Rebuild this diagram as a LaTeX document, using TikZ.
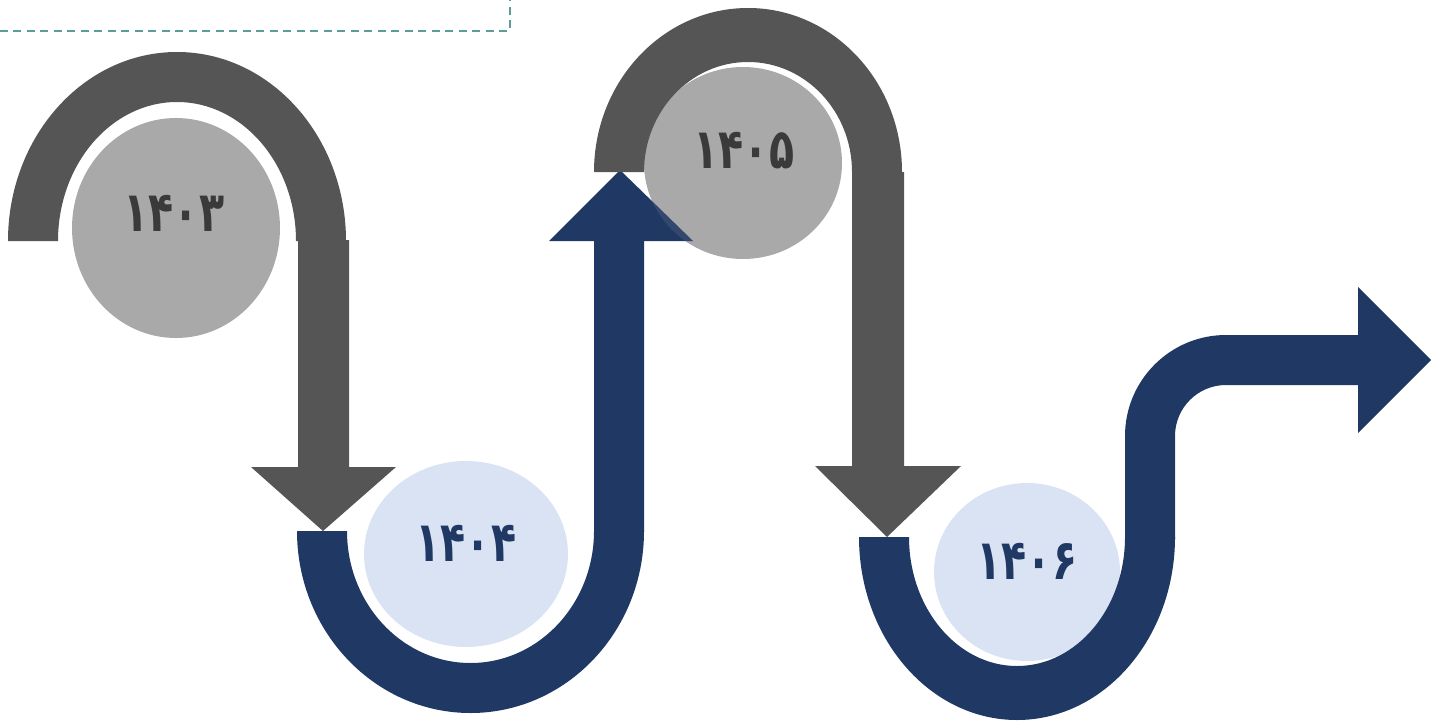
\documentclass[tikz,border=0pt]{standalone}
\usepackage{fontspec}
\usepackage{graphicx}
\newfontfamily\fa[Script=Arabic]{DejaVu Sans}
\definecolor{dgray}{HTML}{555555}
\definecolor{cgray}{HTML}{A9A9A9}
\definecolor{navy}{HTML}{203864}
\definecolor{lblue}{HTML}{DAE3F3}
\definecolor{tgray}{HTML}{3A3A3A}
\definecolor{tealc}{HTML}{5B9E98}
\newcommand{\yeartext}[1]{\scalebox{0.9}[1.22]{#1}}
\begin{document}
\begin{tikzpicture}[x=0.02cm,y=-0.02cm,
  yearlbl/.style={font=\fa\bfseries\fontsize{26}{30}\selectfont, inner sep=0pt},
  frameline/.style={draw=tealc, line width=1.1pt, dash pattern=on 0.16cm off 0.11cm}]
\useasboundingbox (0,0) rectangle (1439,723);
% dashed frame corner
\draw[frameline] (0,31) -- (510,31) -- (510,0);

% circles
\fill[cgray] (176,228) ellipse[x radius=104, y radius=110];
\fill[lblue] (466,554) ellipse[x radius=102, y radius=93];
\fill[cgray] (743,163) ellipse[x radius=99, y radius=96];
\fill[lblue] (1027,572) ellipse[x radius=93, y radius=89];

% shape 1: gray arch + down arrow
\fill[dgray] (8,241) arc[start angle=180, end angle=360, x radius=169, y radius=189]
  -- (296,241) arc[start angle=360, end angle=180, x radius=119, y radius=139] -- cycle;
\fill[dgray] (298,240) -- (349,240) -- (349,467) -- (396,467) -- (323,531) -- (251,467) -- (298,467) -- cycle;

% shape 2: blue U + up arrow
\fill[navy] (297,531) arc[start angle=180, end angle=0, x radius=173.5, y radius=182]
  -- (594,531) arc[start angle=0, end angle=180, x radius=123.5, y radius=132] -- cycle;
\fill[navy] (594,532) -- (644,532) -- (644,241) -- (693,241) -- (620,170) -- (549,241) -- (594,241) -- cycle;
\begin{scope}
  \clip (594,532) -- (644,532) -- (644,241) -- (693,241) -- (620,170) -- (549,241) -- (594,241) -- cycle;
  \fill[cgray, opacity=0.15] (743,163) ellipse[x radius=99, y radius=96];
\end{scope}

% shape 3: gray arch + down arrow
\fill[dgray] (594,172) arc[start angle=180, end angle=360, x radius=154, y radius=164]
  -- (852,172) arc[start angle=360, end angle=180, x radius=104, y radius=110] -- cycle;
\fill[dgray] (852,172) -- (904,172) -- (904,466) -- (961,466) -- (887,537) -- (815,466) -- (852,466) -- cycle;

% shape 4: blue U + right arrow
\fill[navy] (859,537) arc[start angle=180, end angle=0, x radius=158, y radius=183]
  -- (1125,537) arc[start angle=0, end angle=180, x radius=108, y radius=129] -- cycle;
\fill[navy] (1125,540) -- (1125,436) arc[start angle=180, end angle=270, radius=101]
  -- (1358,335) -- (1358,287) -- (1431,360) -- (1358,433) -- (1358,385)
  -- (1226,385) arc[start angle=270, end angle=180, radius=51] -- (1175,540) -- cycle;

% labels
\node[yearlbl, text=tgray] (y1403) at (174,213) {\yeartext{۱۴۰۳}};
\node[yearlbl, text=navy]  (y1404) at (466,543) {\yeartext{۱۴۰۴}};
\node[yearlbl, text=tgray] (y1405) at (744,151) {\yeartext{۱۴۰۵}};
\node[yearlbl, text=navy]  (y1406) at (1027,561) {\yeartext{۱۴۰۶}};
\end{tikzpicture}
\end{document}
